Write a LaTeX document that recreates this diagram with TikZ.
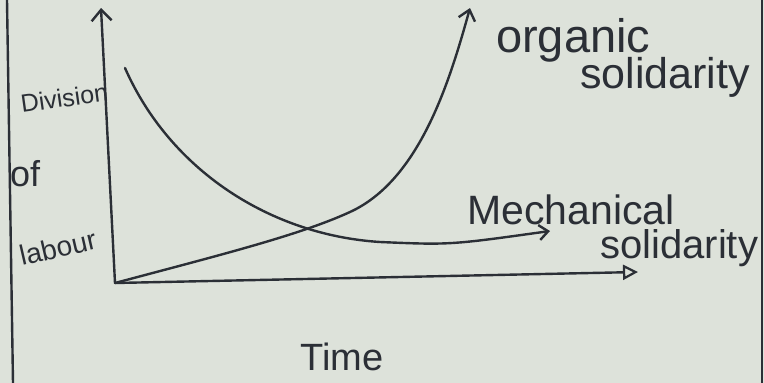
\documentclass[tikz,border=0pt]{standalone}
\usepackage{fontspec}
\setmainfont{Liberation Sans}
\usetikzlibrary{arrows.meta}
\definecolor{paper}{HTML}{DDE2DA}
\definecolor{ink}{HTML}{2B2F36}
\begin{document}
\begin{tikzpicture}[x=1pt,y=-1pt,line cap=round,line join=round,
  pen/.style={draw=ink,line width=2.4pt},
  lab/.style={text=ink,inner sep=0pt,anchor=base west}]
\fill[paper] (0,0) rectangle (764,383);
\useasboundingbox (0,0) rectangle (764,383);
% page edges
\draw[pen] (7,0) -- (13,383);
\draw[ink,line width=1.8pt] (762,0) -- (762,383);
% key points
\coordinate (O) at (115,283);
\coordinate (ytop) at (101,8);
\coordinate (xend) at (638,272);
\coordinate (orgmid) at (350,212);
\coordinate (orgend) at (470,8);
\coordinate (mechstart) at (125,68);
\coordinate (mechlow) at (380,242);
\coordinate (mechend) at (550,231);
% axes
\draw[pen,-{Straight Barb[length=11pt,width=20pt]}] (O) -- (ytop);
\draw[pen,-{Triangle[open,length=15pt,width=15pt,line width=2.2pt]}] (O) -- (xend);
% organic solidarity
\draw[pen,-{Straight Barb[length=10pt,width=17pt]}] (O)
  .. controls (220,255) and (300,235) .. (orgmid)
  .. controls (420,180) and (450,80) .. (orgend);
% mechanical solidarity
\draw[pen,-{Straight Barb[length=9pt,width=15pt]}] (mechstart)
  .. controls (170,170) and (270,235) .. (mechlow)
  .. controls (450,245) .. (mechend);
% labels
\node[lab,rotate=8,font=\fontsize{25}{25}\selectfont] (div) at (22,113) {Division};
\node[lab,font=\fontsize{36}{36}\selectfont] (of) at (10,186) {of};
\node[lab,rotate=13,font=\fontsize{28}{28}\selectfont] (lab) at (22,266) {labour};
\node[lab,font=\fontsize{47}{47}\selectfont] (org) at (496,52) {organic};
\node[lab,font=\fontsize{43}{43}\selectfont] (sol1) at (580,88) {solidarity};
\node[lab,font=\fontsize{41}{41}\selectfont] (mech) at (467,224) {Mechanical};
\node[lab,font=\fontsize{40}{40}\selectfont] (sol2) at (600,258) {solidarity};
\node[lab,font=\fontsize{38}{38}\selectfont] (time) at (300,370) {Time};
\end{tikzpicture}
\end{document}
